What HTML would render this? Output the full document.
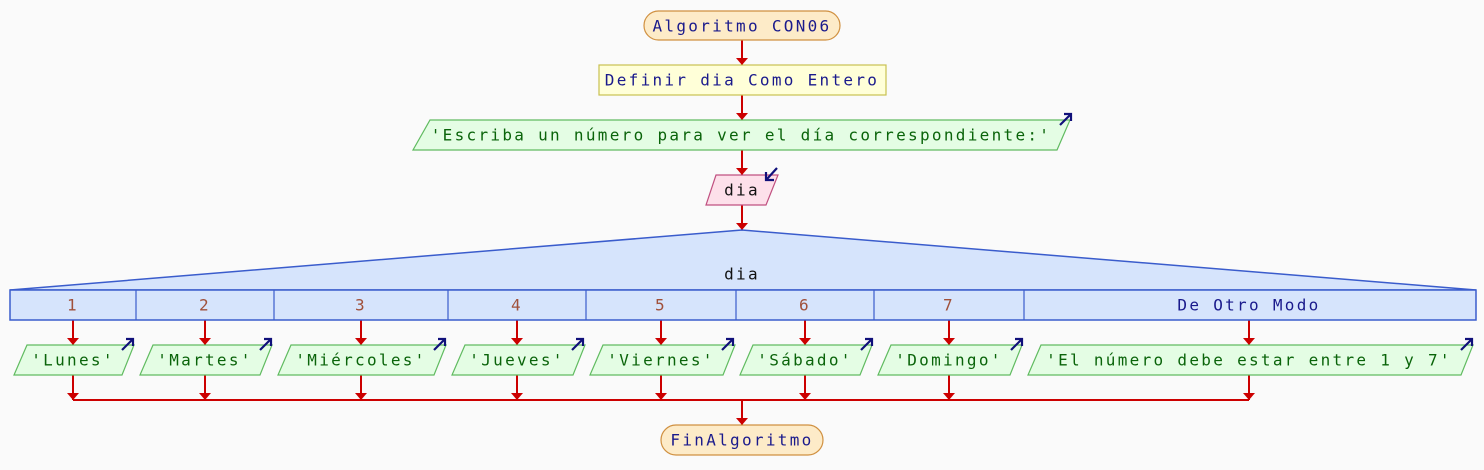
<!DOCTYPE html>
<html><head><meta charset="utf-8"><style>
html,body{margin:0;padding:0;background:#fafafa;}
svg{display:block}
text{font-family:"DejaVu Sans Mono","Liberation Mono",monospace;font-size:16px;letter-spacing:2.3px;text-anchor:middle;dominant-baseline:central}
.n{fill:#1a1a8c}.g{fill:#0a640a}.c{fill:#a0503a}.k{fill:#111}
</style></head><body>
<svg width="1484" height="470" viewBox="0 0 1484 470" xmlns="http://www.w3.org/2000/svg">
<defs>
<g id="ah"><polygon points="-6,-7 6,-7 0,0" fill="#cc0000"/></g>
<g id="out"><line x1="0" y1="12" x2="10" y2="2" stroke="#10107a" stroke-width="2.2"/><polyline points="4,1 11,1 11,8" fill="none" stroke="#10107a" stroke-width="2.2"/></g>
</defs>
<g stroke="#cc0000" stroke-width="2" fill="none">
<line x1="742" y1="40" x2="742" y2="65"/>
<line x1="742" y1="95" x2="742" y2="120"/>
<line x1="742" y1="150" x2="742" y2="175"/>
<line x1="742" y1="205" x2="742" y2="230"/>
<line x1="73" y1="400" x2="1249" y2="400"/>
<line x1="742" y1="400" x2="742" y2="425"/>
<path d="M73 320V345M73 375V400M205 320V345M205 375V400M361 320V345M361 375V400M517 320V345M517 375V400M661 320V345M661 375V400M805 320V345M805 375V400M949 320V345M949 375V400M1249 320V345M1249 375V400"/>
</g>
<use href="#ah" x="742" y="65"/><use href="#ah" x="742" y="120"/><use href="#ah" x="742" y="175"/><use href="#ah" x="742" y="230"/><use href="#ah" x="742" y="425"/>
<use href="#ah" x="73" y="345"/><use href="#ah" x="205" y="345"/><use href="#ah" x="361" y="345"/><use href="#ah" x="517" y="345"/><use href="#ah" x="661" y="345"/><use href="#ah" x="805" y="345"/><use href="#ah" x="949" y="345"/><use href="#ah" x="1249" y="345"/>
<use href="#ah" x="73" y="400"/><use href="#ah" x="205" y="400"/><use href="#ah" x="361" y="400"/><use href="#ah" x="517" y="400"/><use href="#ah" x="661" y="400"/><use href="#ah" x="805" y="400"/><use href="#ah" x="949" y="400"/><use href="#ah" x="1249" y="400"/>

<rect x="644" y="11" width="196" height="29" rx="14.5" fill="#fdebc8" stroke="#d09040" stroke-width="1.2"/>
<text x="742" y="26" class="n">Algoritmo CON06</text>
<rect x="599" y="65" width="287" height="30" fill="#ffffd8" stroke="#c8c050" stroke-width="1.2"/>
<text x="742" y="80" class="n">Definir dia Como Entero</text>
<polygon points="430,120 1070,120 1057,150 413,150" fill="#e4fde4" stroke="#60bb60" stroke-width="1.2"/>
<text x="741" y="135" class="g">'Escriba un número para ver el día correspondiente:'</text>
<use href="#out" x="1060" y="113"/>
<polygon points="716,175 778,175 766,205 706,205" fill="#fde0ea" stroke="#c05080" stroke-width="1.2"/>
<text x="742" y="190" class="k">dia</text>
<line x1="777" y1="168" x2="767" y2="179" stroke="#10107a" stroke-width="2.2"/><polyline points="766,172 766,180 774,180" fill="none" stroke="#10107a" stroke-width="2.2"/>

<polygon points="10,290 742,230 1476,290" fill="#d6e4fc" stroke="#3a5ccc" stroke-width="1.5"/>
<rect x="10" y="290" width="1466" height="30" fill="#d6e4fc" stroke="#3a5ccc" stroke-width="1.5"/>
<path d="M136 290V320M274 290V320M448 290V320M586 290V320M736 290V320M874 290V320M1024 290V320" stroke="#3a5ccc" stroke-width="1.2"/>
<text x="742" y="274" class="k">dia</text>
<text x="73" y="305" class="c">1</text><text x="205" y="305" class="c">2</text><text x="361" y="305" class="c">3</text><text x="517" y="305" class="c">4</text><text x="661" y="305" class="c">5</text><text x="805" y="305" class="c">6</text><text x="949" y="305" class="c">7</text>
<text x="1249" y="305" class="n">De Otro Modo</text>

<g fill="#e4fde4" stroke="#60bb60" stroke-width="1.2">
<polygon points="27,345 134,345 122,375 14,375"/>
<polygon points="153,345 272,345 260,375 140,375"/>
<polygon points="291,345 446,345 434,375 278,375"/>
<polygon points="465,345 585,345 573,375 452,375"/>
<polygon points="603,345 735,345 723,375 590,375"/>
<polygon points="753,345 872,345 860,375 740,375"/>
<polygon points="891,345 1022,345 1010,375 878,375"/>
<polygon points="1041,345 1473,345 1461,375 1028,375"/>
</g>
<text x="73" y="360" class="g">'Lunes'</text>
<text x="205" y="360" class="g">'Martes'</text>
<text x="361" y="360" class="g">'Miércoles'</text>
<text x="517" y="360" class="g">'Jueves'</text>
<text x="661" y="360" class="g">'Viernes'</text>
<text x="805" y="360" class="g">'Sábado'</text>
<text x="949" y="360" class="g">'Domingo'</text>
<text x="1249" y="360" class="g">'El número debe estar entre 1 y 7'</text>
<use href="#out" x="122" y="338"/><use href="#out" x="260" y="338"/><use href="#out" x="434" y="338"/><use href="#out" x="572" y="338"/><use href="#out" x="722" y="338"/><use href="#out" x="861" y="338"/><use href="#out" x="1011" y="338"/><use href="#out" x="1461" y="338"/>

<rect x="661" y="425" width="162" height="30" rx="15" fill="#fdebc8" stroke="#d09040" stroke-width="1.2"/>
<text x="742" y="440" class="n">FinAlgoritmo</text>
</svg>
</body></html>
